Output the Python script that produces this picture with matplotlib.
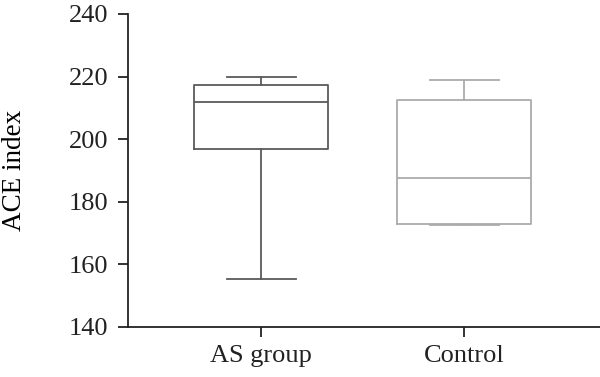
import matplotlib.pyplot as plt

# --- Data ---
groups = ["AS group", "Control"]
whisker_low = [155.3, 172.4]
q1 = [196.9, 172.9]
median = [211.8, 187.6]
q3 = [217.3, 212.4]
whisker_high = [220.0, 218.9]
box_colors = ["#5a5a5a", "#ababab"]

plt.rcParams['font.family'] = ['Liberation Serif', 'DejaVu Serif']

fig = plt.figure(figsize=(6, 3.77), dpi=100)
ax = fig.add_axes([0.213, 0.133, 0.787, 0.830])

stats = []
for i, name in enumerate(groups):
    stats.append(dict(label=name, whislo=whisker_low[i], q1=q1[i], med=median[i],
                      q3=q3[i], whishi=whisker_high[i], fliers=[]))

for i, st in enumerate(stats):
    c = box_colors[i]
    ax.bxp([st], positions=[i + 1], widths=0.66, showfliers=False,
           boxprops=dict(color=c, linewidth=1.3),
           medianprops=dict(color=c, linewidth=1.3),
           whiskerprops=dict(color=c, linewidth=1.3),
           capprops=dict(color=c, linewidth=1.3),
           capwidths=0.34)

ax.set_xlim(0.343, 2.67)
ax.set_ylim(140, 240)
ax.set_yticks([140, 160, 180, 200, 220, 240])
ax.set_xticks([1, 2])
ax.set_xticklabels(groups)
ax.set_ylabel("ACE index", fontsize=19.5)
ax.yaxis.set_label_coords(-0.213, 0.5)

for side in ["top", "right"]:
    ax.spines[side].set_visible(False)
for side in ["left", "bottom"]:
    ax.spines[side].set_linewidth(1.3)
    ax.spines[side].set_color("#222222")
ax.tick_params(axis="both", direction="out", length=7, width=1.3,
               colors="#222222", labelsize=19, labelcolor="#222222")
ax.tick_params(axis="y", pad=7)
ax.tick_params(axis="x", pad=6)

fig.savefig("out.png", dpi=100)
